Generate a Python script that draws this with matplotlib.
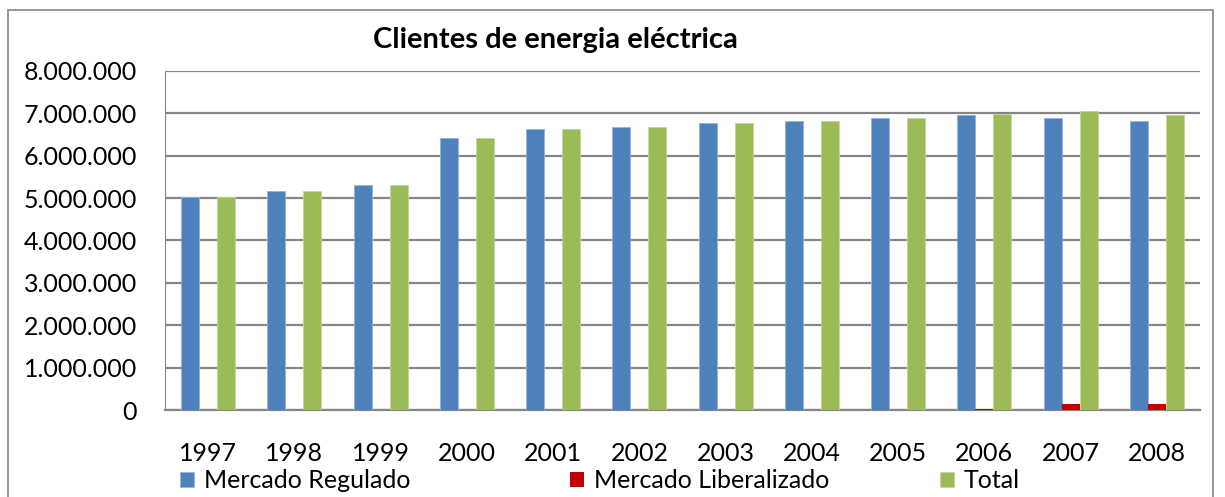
import numpy as np
import matplotlib.pyplot as plt
from matplotlib.patches import Rectangle
from matplotlib.ticker import FuncFormatter

years = ['1997', '1998', '1999', '2000', '2001', '2002', '2003', '2004',
         '2005', '2006', '2007', '2008']
regulado = [5035000, 5160000, 5300000, 6420000, 6630000, 6680000, 6780000,
            6820000, 6890000, 6960000, 6900000, 6820000]
liberalizado = [0, 0, 0, 0, 0, 0, 0, 0, 0, 15000, 140000, 140000]
total = [5035000, 5160000, 5300000, 6420000, 6630000, 6680000, 6780000,
         6820000, 6890000, 6975000, 7060000, 6970000]

plt.rcParams['font.family'] = ['Lato', 'DejaVu Sans']

fig = plt.figure(figsize=(12.25, 4.97), dpi=100)
ax = fig.add_axes([165 / 1225, 1 - 410 / 497, (1200 - 165) / 1225, (410 - 71) / 497])

x = np.arange(len(years))
w = 0.209
b1 = ax.bar(x - w, regulado, w, color='#4F81BD', edgecolor='#95B3D7', linewidth=0.6,
            label='Mercado Regulado', zorder=3)
b2 = ax.bar(x, liberalizado, w, color='#C00000', label='Mercado Liberalizado', zorder=3)
b3 = ax.bar(x + w, total, w, color='#9BBB59', edgecolor='#C3D69B', linewidth=0.6,
            label='Total', zorder=3)

ax.set_xlim(-0.5, len(years) - 0.5)
ax.set_ylim(0, 8000000)
ax.set_yticks(np.arange(0, 8000001, 1000000))
ax.yaxis.set_major_formatter(FuncFormatter(lambda v, p: f'{int(v):,}'.replace(',', '.')))
ax.set_xticks(x)
ax.set_xticklabels(years)
ax.tick_params(axis='both', length=0, labelsize=18)
ax.tick_params(axis='x', pad=23)
ax.tick_params(axis='y', pad=20)
ax.grid(axis='y', color='#868686', linewidth=1.6, zorder=0)
for side in ['top', 'right']:
    ax.spines[side].set_visible(False)
ax.spines['left'].set_color('#868686')
ax.spines['bottom'].set_color('#868686')
ax.spines['bottom'].set_linewidth(1.6)

fig.text(555 / 1225, 1 - 40 / 497, 'Clientes de energia eléctrica', ha='center',
         va='center', fontsize=21, fontweight='bold')

# one legend per entry, placed where the original puts them
for bars, xpos in [(b1, 180), (b2, 570), (b3, 940)]:
    leg = fig.legend([bars], [bars.get_label()], loc='center left',
                     bbox_to_anchor=(xpos / 1225, 1 - 481 / 497), frameon=False,
                     fontsize=18, handlelength=0.55, handleheight=0.55,
                     handletextpad=0.4, borderpad=0, borderaxespad=0)

fig.patches.append(Rectangle((8 / 1225, -0.02), 1205 / 1225, 1.02 - 10 / 497,
                             transform=fig.transFigure, fill=False,
                             edgecolor='#868686', linewidth=1.2))

plt.savefig('out.png', dpi=100)
